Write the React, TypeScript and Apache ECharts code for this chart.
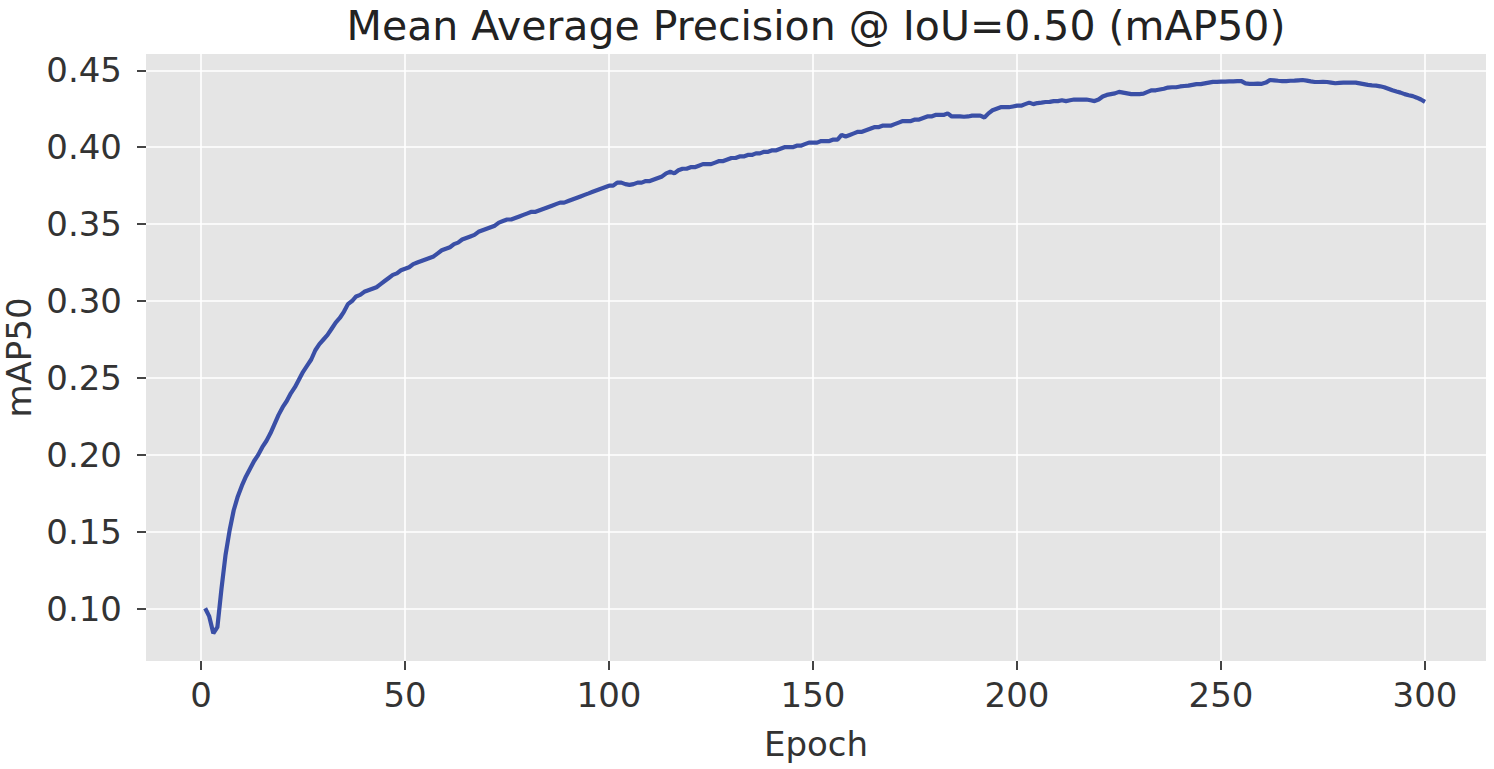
import React, { useEffect, useRef } from "react";
import * as echarts from "echarts";

const titleText = "Mean Average Precision @ IoU=0.50 (mAP50)";
const xName = "Epoch";
const yName = "mAP50";
const xTicks = [0, 50, 100, 150, 200, 250, 300];
const yTicks = [0.1, 0.15, 0.2, 0.25, 0.3, 0.35, 0.4, 0.45];

// mAP50 per epoch (epochs 1..300)
const map50 = [
  0.1003, 0.095, 0.084, 0.088, 0.113, 0.135, 0.151, 0.164, 0.173, 0.18,
  0.186, 0.191, 0.196, 0.2, 0.205, 0.209, 0.214, 0.22, 0.226, 0.231,
  0.235, 0.24, 0.244, 0.249, 0.254, 0.258, 0.262, 0.268, 0.272, 0.275,
  0.278, 0.282, 0.286, 0.289, 0.293, 0.298, 0.3, 0.303, 0.304, 0.306,
  0.307, 0.308, 0.309, 0.311, 0.313, 0.315, 0.317, 0.318, 0.32, 0.321,
  0.322, 0.324, 0.325, 0.326, 0.327, 0.328, 0.329, 0.331, 0.333, 0.334,
  0.335, 0.337, 0.338, 0.34, 0.341, 0.342, 0.343, 0.345, 0.346, 0.347,
  0.348, 0.349, 0.351, 0.352, 0.353, 0.353, 0.354, 0.355, 0.356, 0.357,
  0.358, 0.358, 0.359, 0.36, 0.361, 0.362, 0.363, 0.364, 0.364, 0.365,
  0.366, 0.367, 0.368, 0.369, 0.37, 0.371, 0.372, 0.373, 0.374, 0.375,
  0.375, 0.377, 0.377, 0.376, 0.3755, 0.376, 0.377, 0.377, 0.378, 0.378,
  0.379, 0.38, 0.381, 0.383, 0.384, 0.383, 0.385, 0.386, 0.386, 0.387,
  0.387, 0.388, 0.389, 0.389, 0.389, 0.39, 0.391, 0.391, 0.392, 0.393,
  0.393, 0.394, 0.394, 0.395, 0.395, 0.396, 0.396, 0.397, 0.397, 0.398,
  0.398, 0.399, 0.4, 0.4, 0.4, 0.401, 0.401, 0.402, 0.403, 0.403,
  0.403, 0.404, 0.404, 0.404, 0.405, 0.405, 0.408, 0.407, 0.408, 0.409,
  0.41, 0.41, 0.411, 0.412, 0.413, 0.413, 0.414, 0.414, 0.414, 0.415,
  0.416, 0.417, 0.417, 0.417, 0.418, 0.418, 0.419, 0.42, 0.42, 0.421,
  0.421, 0.421, 0.422, 0.42, 0.42, 0.42, 0.4198, 0.42, 0.4205, 0.4205,
  0.4205, 0.4193, 0.422, 0.424, 0.425, 0.426, 0.426, 0.426, 0.4265, 0.427,
  0.427, 0.428, 0.429, 0.428, 0.4287, 0.429, 0.4294, 0.4295, 0.43, 0.43,
  0.4305, 0.43, 0.4305, 0.431, 0.431, 0.431, 0.431, 0.4305, 0.43, 0.431,
  0.433, 0.434, 0.4345, 0.435, 0.436, 0.4355, 0.435, 0.4345, 0.4345, 0.4345,
  0.4348, 0.436, 0.437, 0.437, 0.4375, 0.438, 0.4388, 0.439, 0.439, 0.4395,
  0.4398, 0.44, 0.4405, 0.441, 0.441, 0.4415, 0.442, 0.4425, 0.4425, 0.4427,
  0.4427, 0.4428, 0.4428, 0.443, 0.443, 0.4415, 0.4412, 0.4412, 0.4413, 0.4412,
  0.442, 0.4437, 0.4435, 0.4432, 0.443, 0.443, 0.4432, 0.4433, 0.4435, 0.4437,
  0.4433, 0.4428, 0.4424, 0.4424, 0.4425, 0.4424, 0.442, 0.4416, 0.4418, 0.442,
  0.442, 0.442, 0.442, 0.4415, 0.441, 0.4405, 0.4402, 0.44, 0.4396, 0.439,
  0.438, 0.437, 0.4362, 0.4355, 0.4345, 0.4338, 0.4332, 0.4322, 0.431, 0.4295,
];

const FONT = "DejaVu Sans";

export default function App() {
  const ref = useRef<HTMLDivElement>(null);
  useEffect(() => {
    if (!ref.current) return;
    const chart = echarts.init(ref.current, undefined, { renderer: "svg" });
    const data = map50.map((v, i) => [i + 1, v]);
    const xMin = -13.5;
    const xMax = 314.95;
    const yMin = 0.066;
    const yMax = 0.4606;
    chart.setOption({
      animation: false,
      backgroundColor: "#ffffff",
      textStyle: { fontFamily: FONT },
      title: {
        text: titleText,
        left: 811,
        top: 0,
        textAlign: "center",
        textStyle: { fontFamily: FONT, fontSize: 41, fontWeight: "normal", color: "#222222" },
      },
      grid: {
        left: 146,
        top: 54,
        width: 1340,
        height: 607,
        show: true,
        backgroundColor: "#e5e5e5",
        borderWidth: 0,
        containLabel: false,
        outerBoundsMode: "none",
      },
      xAxis: {
        type: "value",
        min: xMin,
        max: xMax,
        name: xName,
        nameLocation: "middle",
        nameGap: 66,
        nameMoveOverlap: false,
        nameTextStyle: { fontFamily: FONT, fontSize: 34, color: "#333333" },
        axisLine: { show: false, onZero: false },
        axisTick: { show: true, length: 9, lineStyle: { color: "#444444", width: 2 }, customValues: xTicks },
        axisLabel: {
          fontFamily: FONT,
          fontSize: 34,
          color: "#333333",
          margin: 17,
          customValues: xTicks,
          formatter: (v: number) => String(v),
        },
        splitLine: { show: true, lineStyle: { color: "#ffffff", width: 1.6 } },
      },
      yAxis: {
        type: "value",
        min: yMin,
        max: yMax,
        name: yName,
        nameLocation: "middle",
        nameGap: 110,
        nameRotate: 90,
        nameMoveOverlap: false,
        nameTextStyle: { fontFamily: FONT, fontSize: 34, color: "#333333", lineHeight: 34 },
        axisLine: { show: false, onZero: false },
        axisTick: { show: true, length: 9, lineStyle: { color: "#444444", width: 2 }, customValues: yTicks },
        axisLabel: {
          fontFamily: FONT,
          fontSize: 34,
          color: "#333333",
          margin: 24,
          customValues: yTicks,
          formatter: (v: number) => v.toFixed(2),
        },
        splitLine: { show: true, lineStyle: { color: "#ffffff", width: 1.6 } },
      },
      series: [
        {
          type: "line",
          data,
          showSymbol: false,
          symbol: "none",
          lineStyle: { color: "#3a4fa6", width: 4.2 },
          z: 3,
        },
      ],
    });
    return () => chart.dispose();
  }, []);
  return (
    <div
      ref={ref}
      style={{ position: "fixed", left: 0, top: 0, width: 1494, height: 769 }}
    />
  );
}
